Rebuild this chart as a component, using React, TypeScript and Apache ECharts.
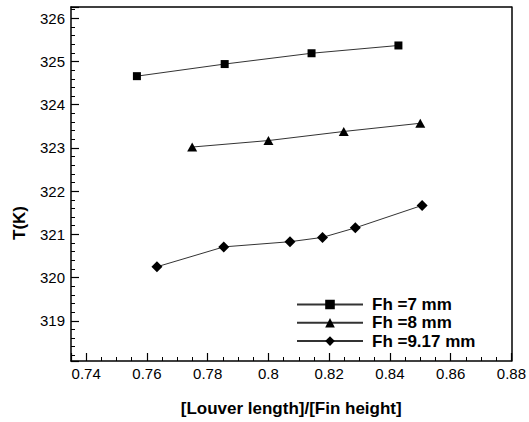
import React, { useEffect, useRef } from "react";
import * as echarts from "echarts";

const seriesNames = ["Fh =7 mm", "Fh =8 mm", "Fh =9.17 mm"];
const xFh7 = [0.7567, 0.7856, 0.8142, 0.8428];
const yFh7 = [324.66, 324.94, 325.19, 325.37];
const xFh8 = [0.7749, 0.8, 0.8248, 0.85];
const yFh8 = [323.02, 323.17, 323.38, 323.57];
const xFh917 = [0.7633, 0.7853, 0.8071, 0.8178, 0.8286, 0.8506];
const yFh917 = [320.25, 320.71, 320.83, 320.93, 321.15, 321.67];
const xAxisTitle = "[Louver length]/[Fin height]";
const yAxisTitle = "T(K)";

const zip = (xs: number[], ys: number[]) => xs.map((x, i) => [x, ys[i]]);

export default function App() {
  const ref = useRef<HTMLDivElement>(null);
  useEffect(() => {
    document.body.style.margin = "0";
    const chart = echarts.init(ref.current!, null, { renderer: "svg" });
    const font = "Liberation Sans, Arial, sans-serif";
    const lineStyle = { color: "#333", width: 1 };
    const mk = (name: string, data: number[][], symbol: string, size: number | number[]) => ({
      name,
      type: "line",
      data,
      symbol,
      symbolSize: size,
      showSymbol: true,
      lineStyle,
      itemStyle: { color: "#000" },
      emphasis: { disabled: true },
    });
    const frameAxis = {
      type: "value",
      axisLine: { show: true, lineStyle: { color: "#000", width: 1.5 } },
      axisTick: { show: false },
      axisLabel: { show: false },
      splitLine: { show: false },
    };
    chart.setOption({
      animation: false,
      backgroundColor: "#fff",
      grid: {
        left: 71,
        right: 15,
        top: 7,
        bottom: 50,
      },
      xAxis: [
        {
          type: "value",
          min: 0.735,
          max: 0.88,
          minInterval: 0.02,
          maxInterval: 0.02,
          name: xAxisTitle,
          nameLocation: "middle",
          nameGap: 39,
          nameTextStyle: { fontFamily: font, fontWeight: "bold", fontSize: 17, color: "#000" },
          axisLine: { lineStyle: { color: "#000", width: 1.5 } },
          axisTick: { inside: true, length: 8, lineStyle: { color: "#000", width: 1.2 } },
          minorTick: { show: true, splitNumber: 4, length: 4, lineStyle: { color: "#000", width: 1 } },
          splitLine: { show: false },
          axisLabel: {
            fontFamily: font,
            fontSize: 15,
            color: "#000",
            margin: 5,
            showMinLabel: false,
          },
        },
        { ...frameAxis, position: "top", min: 0.735, max: 0.88 },
      ],
      yAxis: [
        {
          type: "value",
          min: 318.07,
          max: 326.26,
          minInterval: 1,
          maxInterval: 1,
          axisLine: { lineStyle: { color: "#000", width: 1.5 } },
          axisTick: { inside: true, length: 8, lineStyle: { color: "#000", width: 1.2 } },
          minorTick: { show: true, splitNumber: 5, length: 4, lineStyle: { color: "#000", width: 1 } },
          splitLine: { show: false },
          axisLabel: {
            fontFamily: font,
            fontSize: 15,
            color: "#000",
            margin: 6,
            showMinLabel: false,
            showMaxLabel: false,
          },
        },
        { ...frameAxis, position: "right", min: 318.07, max: 326.26 },
      ],
      legend: {
        orient: "vertical",
        left: 291,
        top: 291,
        itemWidth: 66,
        itemHeight: 12,
        itemGap: 1.3,
        textStyle: {
          fontFamily: font,
          fontWeight: "bold",
          fontSize: 17,
          color: "#000",
          padding: [0, 0, 0, 4],
        },
        data: seriesNames,
      },
      graphic: [
        {
          type: "text",
          x: 19,
          y: 223,
          rotation: Math.PI / 2,
          style: {
            text: yAxisTitle,
            fontFamily: font,
            fontWeight: "bold",
            fontSize: 17,
            fill: "#000",
            align: "center",
            verticalAlign: "middle",
          },
        },
      ],
      series: [
        mk(seriesNames[0], zip(xFh7, yFh7), "rect", 8),
        mk(seriesNames[1], zip(xFh8, yFh8), "triangle", [10, 9]),
        mk(seriesNames[2], zip(xFh917, yFh917), "diamond", [11, 11]),
      ],
    });
    return () => chart.dispose();
  }, []);
  return (
    <div
      ref={ref}
      style={{ position: "absolute", left: 0, top: 0, width: 529, height: 422 }}
    />
  );
}
